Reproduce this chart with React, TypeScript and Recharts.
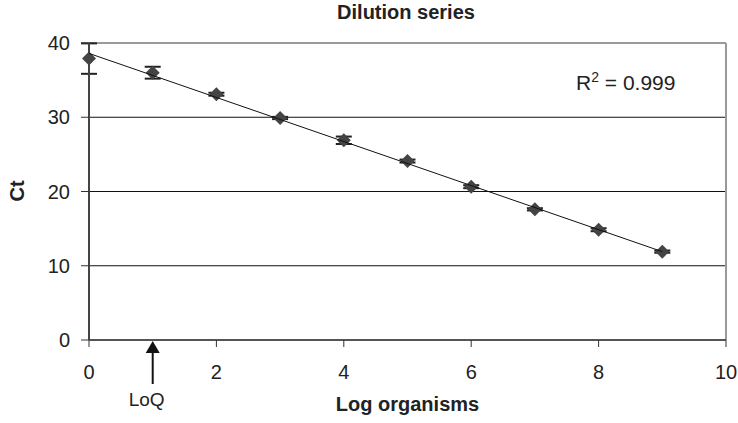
import {
  ScatterChart,
  Scatter,
  XAxis,
  YAxis,
  CartesianGrid,
  ErrorBar,
  ReferenceLine,
  ReferenceDot,
} from "recharts";

// log10 of organism count per dilution step
const logOrganisms = [0, 1, 2, 3, 4, 5, 6, 7, 8, 9];
// mean Ct and standard deviation for each step
const ctMean = [37.9, 36.0, 33.1, 29.9, 26.9, 24.1, 20.65, 17.6, 14.85, 11.9];
const ctSd = [2.05, 0.8, 0.2, 0.15, 0.5, 0.2, 0.2, 0.15, 0.2, 0.15];

// linear trendline ends
const trendX = [0, 9];
const trendCt = [38.6, 11.9];

const xTicks = [0, 2, 4, 6, 8, 10];
const yTicks = [0, 10, 20, 30, 40];
const loqLog = 1;
const rSquared = "0.999";

const points = logOrganisms.map((x, i) => ({ x, y: ctMean[i], err: ctSd[i] }));
const trend = trendX.map((x, i) => ({ x, y: trendCt[i] }));

const FONT = "'Liberation Sans', Arial, sans-serif";
const TEXT = "#222";

const Diamond = (props: any) => {
  const { cx, cy } = props;
  const r = 7;
  return (
    <path
      d={`M${cx},${cy - r} L${cx + r},${cy} L${cx},${cy + r} L${cx - r},${cy} Z`}
      fill="#444"
    />
  );
};

const NoDot = () => <g />;

const LoqArrow = (props: any) => {
  const { cx, cy } = props;
  return (
    <g>
      <path d={`M${cx},${cy + 1} L${cx + 7},${cy + 13} L${cx - 7},${cy + 13} Z`} fill="#111" />
      <line x1={cx} y1={cy + 12} x2={cx} y2={cy + 44} stroke="#111" strokeWidth={2} />
      <text
        x={cx - 6}
        y={cy + 66}
        textAnchor="middle"
        fontFamily={FONT}
        fontSize={19}
        fill={TEXT}
      >
        LoQ
      </text>
    </g>
  );
};

const tickStyle = { fontSize: 20, fill: TEXT, fontFamily: FONT };

export default function App() {
  return (
    <div
      style={{
        position: "absolute",
        left: 0,
        top: 0,
        width: 738,
        height: 423,
        background: "#fff",
        fontFamily: FONT,
        color: TEXT,
      }}
    >
      <div
        style={{
          position: "absolute",
          left: 0,
          width: 812,
          top: 1,
          textAlign: "center",
          fontWeight: "bold",
          fontSize: 20,
        }}
      >
        Dilution series
      </div>

      <ScatterChart
        width={738}
        height={423}
        margin={{ top: 43, right: 12, bottom: 43, left: 29 }}
      >
        <CartesianGrid
          horizontal
          vertical={false}
          stroke="#111"
          strokeWidth={1}
        />
        <XAxis
          type="number"
          dataKey="x"
          domain={[0, 10]}
          ticks={xTicks}
          height={40}
          tick={tickStyle}
          tickSize={7}
          tickMargin={18}
          axisLine={{ stroke: "#555", strokeWidth: 2 }}
          tickLine={{ stroke: "#333" }}
        />
        <YAxis
          type="number"
          dataKey="y"
          domain={[0, 40]}
          ticks={yTicks}
          width={60}
          tick={tickStyle}
          tickSize={8}
          tickMargin={11}
          axisLine={{ stroke: "#444", strokeWidth: 2 }}
          tickLine={{ stroke: "#333" }}
        />
        <ReferenceLine y={40} stroke="#9a9a9a" strokeWidth={2} />
        <ReferenceLine x={10} stroke="#9a9a9a" strokeWidth={2} />

        <Scatter data={points} shape={Diamond} isAnimationActive={false}>
          <ErrorBar
            dataKey="err"
            direction="y"
            width={8}
            stroke="#222"
            strokeWidth={2}
            isAnimationActive={false}
          />
        </Scatter>
        <Scatter
          data={trend}
          line={{ stroke: "#111", strokeWidth: 1 }}
          shape={NoDot}
          isAnimationActive={false}
        />
        <ReferenceDot
          x={loqLog}
          y={0}
          r={0}
          ifOverflow="visible"
          shape={LoqArrow}
        />
      </ScatterChart>

      <div
        style={{
          position: "absolute",
          left: 89,
          width: 637,
          top: 393,
          textAlign: "center",
          fontWeight: "bold",
          fontSize: 20,
        }}
      >
        Log organisms
      </div>
      <div
        style={{
          position: "absolute",
          left: 17,
          top: 191,
          transform: "translate(-50%, -50%) rotate(-90deg)",
          fontWeight: "bold",
          fontSize: 20,
          whiteSpace: "nowrap",
        }}
      >
        Ct
      </div>
      <div
        style={{
          position: "absolute",
          left: 576,
          top: 69,
          fontSize: 21,
          whiteSpace: "nowrap",
        }}
      >
        R<sup style={{ fontSize: 14 }}>2</sup> = {rSquared}
      </div>
    </div>
  );
}
